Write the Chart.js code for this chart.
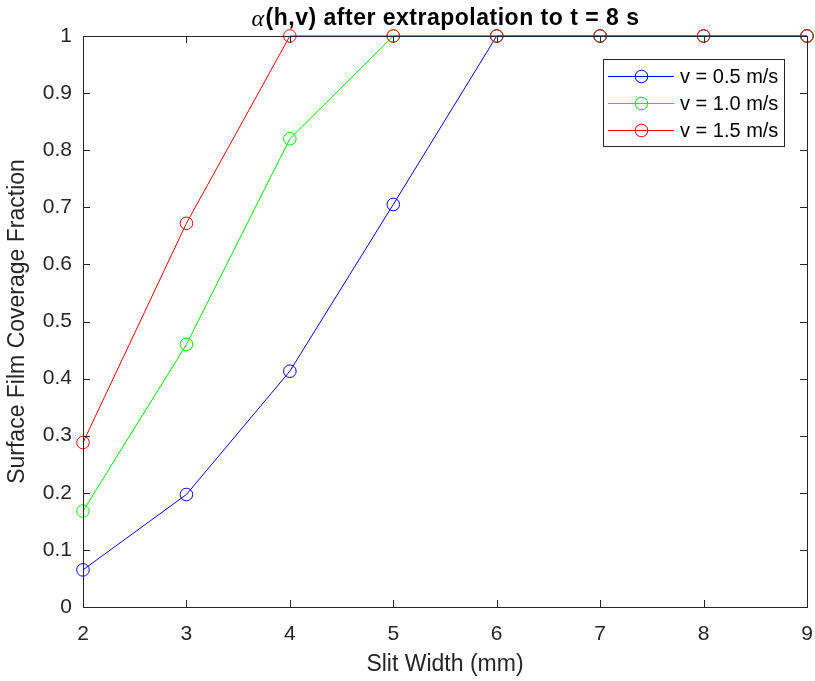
<!DOCTYPE html>
<html>
<head>
<meta charset="utf-8">
<script src="https://cdn.jsdelivr.net/npm/chart.js@4/dist/chart.umd.min.js"></script>
<style>
  html, body { margin: 0; padding: 0; background: #fff; }
  #wrap { width: 815px; height: 681px; position: relative; }
</style>
</head>
<body>
<div id="wrap"><canvas id="c" width="815" height="681"></canvas></div>
<script>
// ===== DATA =====
const slitWidth = [2, 3, 4, 5, 6, 7, 8, 9];
const cov05 = [0.065, 0.197, 0.413, 0.705, 1, 1, 1, 1];
const cov10 = [0.168, 0.460, 0.820, 1, 1, 1, 1, 1];
const cov15 = [0.288, 0.672, 1, 1, 1, 1, 1, 1];
const seriesLabels = ["v = 0.5 m/s", "v = 1.0 m/s", "v = 1.5 m/s"];
const seriesColors = ["#0000ff", "#00ee00", "#ff0000"];
const xTicks = [2, 3, 4, 5, 6, 7, 8, 9];
const yTicks = [0, 0.1, 0.2, 0.3, 0.4, 0.5, 0.6, 0.7, 0.8, 0.9, 1];

const INK = "#262626";
const FONT = "Liberation Sans, Arial, sans-serif";
const pts = (ys) => slitWidth.map((x, i) => ({ x, y: ys[i] }));

// ===== PLUGINS =====
// box + inward ticks on all four sides (MATLAB style)
const boxAxes = {
  id: "boxAxes",
  afterDatasetsDraw(chart) {
    const { ctx, chartArea: a, scales } = chart;
    const L = 7;
    ctx.save();
    ctx.strokeStyle = INK; ctx.lineWidth = 1;
    ctx.beginPath();
    xTicks.forEach(v => {
      const px = Math.round(scales.x.getPixelForValue(v)) + 0.5;
      ctx.moveTo(px, a.bottom); ctx.lineTo(px, a.bottom - L);
      ctx.moveTo(px, a.top); ctx.lineTo(px, a.top + L);
    });
    yTicks.forEach(v => {
      const py = Math.round(scales.y.getPixelForValue(v)) + 0.5;
      ctx.moveTo(a.left, py); ctx.lineTo(a.left + L, py);
      ctx.moveTo(a.right, py); ctx.lineTo(a.right - L, py);
    });
    ctx.stroke();
    ctx.strokeRect(Math.round(a.left) + 0.5, Math.round(a.top) + 0.5,
      Math.round(a.right - a.left), Math.round(a.bottom - a.top));
    ctx.restore();
  }
};

// title with TeX-like alpha
const titlePlug = {
  id: "titlePlug",
  afterDraw(chart) {
    const { ctx, chartArea: a } = chart;
    const cx = (a.left + a.right) / 2, cy = 19;
    ctx.save();
    ctx.fillStyle = "#000";
    ctx.textBaseline = "middle";
    ctx.letterSpacing = "0.5px";
    const f1 = "italic 24px 'Liberation Serif', 'Times New Roman', serif";
    const f2 = "bold 23px " + FONT;
    const s1 = "\u03B1", s2 = "(h,v) after extrapolation to t = 8 s";
    ctx.font = f1; const w1 = ctx.measureText(s1).width;
    ctx.font = f2; const w2 = ctx.measureText(s2).width;
    let x = cx - (w1 + w2) / 2;
    ctx.textAlign = "left";
    ctx.font = f1; ctx.fillText(s1, x, cy + 1);
    ctx.font = f2; ctx.fillText(s2, x + w1 + 1, cy);
    ctx.restore();
  }
};

// legend box inside the plot
const legendPlug = {
  id: "legendPlug",
  afterDraw(chart) {
    const { ctx } = chart;
    const bx = 603, by = 59, bw = 181, bh = 87;
    const rows = [76, 103, 130];
    ctx.save();
    ctx.fillStyle = "#fff";
    ctx.fillRect(bx, by, bw, bh);
    ctx.strokeStyle = INK; ctx.lineWidth = 1;
    ctx.strokeRect(bx + 0.5, by + 0.5, bw, bh);
    ctx.font = "20px " + FONT;
    ctx.textBaseline = "middle";
    seriesLabels.forEach((lab, i) => {
      const y = rows[i] + 0.5;
      ctx.strokeStyle = seriesColors[i];
      ctx.beginPath(); ctx.moveTo(608, y); ctx.lineTo(674, y); ctx.stroke();
      ctx.beginPath(); ctx.arc(641.5, y, 6.3, 0, Math.PI * 2); ctx.stroke();
      ctx.fillStyle = "#000";
      ctx.fillText(lab, 680, y + 1);
    });
    ctx.restore();
  }
};

// ===== CHART =====
const mk = (i, ys, order) => ({
  label: seriesLabels[i],
  data: pts(ys),
  borderColor: seriesColors[i],
  backgroundColor: "rgba(0,0,0,0)",
  borderWidth: 1,
  pointRadius: 6.3,
  pointBorderWidth: 1,
  pointBorderColor: seriesColors[i],
  pointBackgroundColor: "rgba(0,0,0,0)",
  tension: 0,
  clip: false,
  order
});

new Chart(document.getElementById("c").getContext("2d"), {
  type: "line",
  data: {
    datasets: [mk(0, cov05, 3), mk(1, cov10, 2), mk(2, cov15, 1)]
  },
  options: {
    responsive: false,
    animation: false,
    layout: { autoPadding: false, padding: { top: 36, right: 8, bottom: 0, left: 0 } },
    plugins: { legend: { display: false }, tooltip: { enabled: false }, title: { display: false } },
    scales: {
      x: {
        type: "linear", min: 2, max: 9,
        afterBuildTicks: (s) => { s.ticks = xTicks.map(v => ({ value: v })); },
        afterFit: (s) => { s.height = 74; s.paddingRight = 0; s.paddingLeft = 0; },
        grid: { display: false, drawTicks: false },
        border: { display: false },
        ticks: { color: INK, font: { family: FONT, size: 21 }, padding: 15, maxRotation: 0, autoSkip: false },
        title: { display: true, text: "Slit Width (mm)", color: INK, font: { family: FONT, size: 23 }, padding: { top: 0, bottom: 3 } }
      },
      y: {
        type: "linear", min: 0, max: 1,
        afterBuildTicks: (s) => { s.ticks = yTicks.map(v => ({ value: v })); },
        afterFit: (s) => { s.width = 83; s.paddingTop = 0; s.paddingBottom = 0; },
        grid: { display: false, drawTicks: false },
        border: { display: false },
        ticks: { color: INK, font: { family: FONT, size: 21 }, padding: 11, callback: (v) => String(+v.toFixed(1)) },
        title: { display: true, text: "Surface Film Coverage Fraction", color: INK, font: { family: FONT, size: 23 }, padding: { top: 4, bottom: 0 } }
      }
    }
  },
  plugins: [boxAxes, titlePlug, legendPlug]
});
</script>
</body>
</html>
